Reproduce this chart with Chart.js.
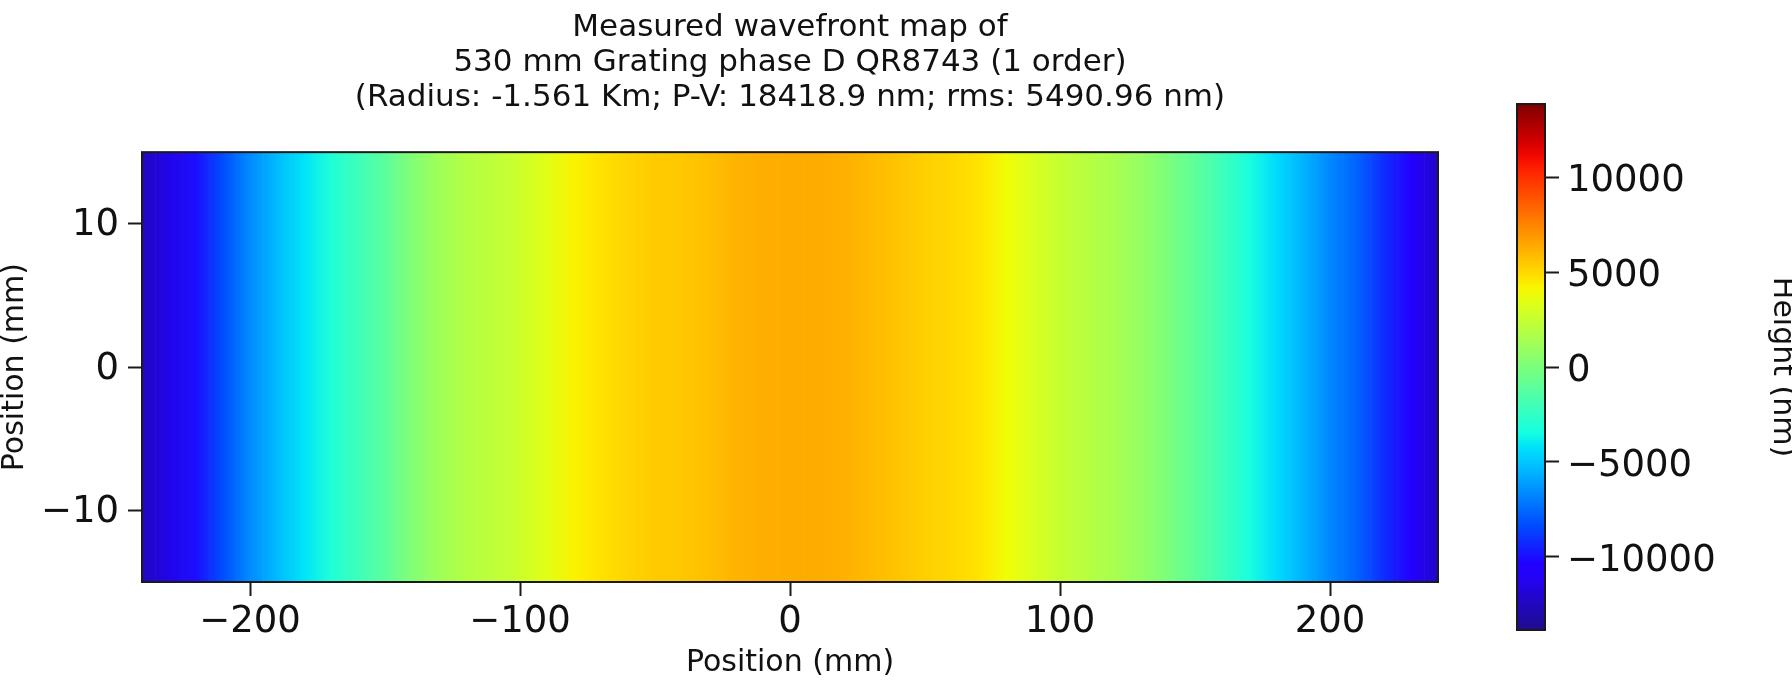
<!DOCTYPE html>
<html>
<head>
<meta charset="utf-8">
<script src="https://cdn.jsdelivr.net/npm/chart.js@4.4.1/dist/chart.umd.min.js"></script>
<style>
  html, body { margin: 0; padding: 0; background: #fff; overflow: hidden; }
  body { width: 1792px; height: 691px; position: relative; }
  #cajaMapa { position: absolute; left: 0; top: 0; width: 1580px; height: 691px; }
  #cajaBarra { position: absolute; left: 1440px; top: 0; width: 370px; height: 691px; }
</style>
</head>
<body>
<div id="cajaMapa"><canvas id="mapa"></canvas></div>
<div id="cajaBarra"><canvas id="barra"></canvas></div>
<script>
const titulo = [
    'Measured wavefront map of',
    '530 mm Grating phase D QR8743 (1 order)',
    '(Radius: -1.561 Km; P-V: 18418.9 nm; rms: 5490.96 nm)'
]
const posiciones = [-240, -230, -220, -210, -200, -190, -180, -170, -160, -150, -140, -130, -120, -110, -100,
    -90, -80, -70, -60, -50, -40, -30, -20, -10, 0, 10, 20, 30, 40, 50, 60, 70, 80, 90,
    100, 110, 120, 130, 140, 150, 160, 170, 180, 190, 200, 210, 220, 230, 240]
const alturas = [-12500, -11400, -10000, -8300, -6600, -5300, -4200, -3100, -2100, -1100, 200, 1200, 1850, 2250, 2700,
    3400, 4250, 4750, 5150, 5400, 5500, 5750, 6100, 6250, 6300, 6300, 6200, 5900, 5600, 5300, 5050, 4700, 3950, 3150,
    2500, 2000, 1500, 850, 0, -1000, -2100, -3300, -4400, -5500, -6700, -7700, -9200, -10700, -12200]
const rangoY = [-15, 15]
const rangoX = [-240, 240]
const ticksX = [-200, -100, 0, 100, 200]
const ticksY = [-10, 0, 10]
const rangoColor = [-13850, 13850]
const ticksColor = [-10000, -5000, 0, 5000, 10000]

Chart.defaults.font.family = 'DejaVu Sans'
Chart.defaults.color = '#111'

// mapa de color tipo jet
const canalesJet = {
    r: [[0, 0.12], [0.12, 0.14], [0.2, 0], [0.35, 0], [0.66, 1], [0.89, 1], [1, 0.5]],
    g: [[0, 0.05], [0.125, 0], [0.375, 1], [0.64, 1], [0.91, 0], [1, 0]],
    b: [[0, 0.55], [0.11, 1], [0.34, 1], [0.65, 0], [1, 0]]
}

const tramo = (puntos, t) => {
    for (let i = 1; i < puntos.length; i++) {
        if (t <= puntos[i][0]) {
            const [t0, v0] = puntos[i - 1]
            const [t1, v1] = puntos[i]
            return v0 + (v1 - v0) * (t - t0) / (t1 - t0)
        }
    }
    return puntos[puntos.length - 1][1]
}

const colorJet = (valor) => {
    const t = Math.min(1, Math.max(0, (valor - rangoColor[0]) / (rangoColor[1] - rangoColor[0])))
    const r = Math.round(255 * tramo(canalesJet.r, t))
    const g = Math.round(255 * tramo(canalesJet.g, t))
    const b = Math.round(255 * tramo(canalesJet.b, t))
    return `rgb(${r}, ${g}, ${b})`
}

const formatoTick = (v) => v < 0 ? '\u2212' + Math.abs(v) : String(v)

// degradado horizontal con una parada por cada columna medida
const degradadoMapa = (context) => {
    const chart = context.chart
    if (!chart.chartArea) return colorJet(0)
    const x = chart.scales.x
    const x0 = x.getPixelForValue(posiciones[0])
    const x1 = x.getPixelForValue(posiciones[posiciones.length - 1])
    const grad = chart.ctx.createLinearGradient(x0, 0, x1, 0)
    posiciones.forEach((p, i) => {
        grad.addColorStop((x.getPixelForValue(p) - x0) / (x1 - x0), colorJet(alturas[i]))
    })
    return grad
}

// degradado vertical de la barra de color
const degradadoBarra = (context) => {
    const chart = context.chart
    if (!chart.chartArea) return colorJet(0)
    const y = chart.scales.y
    const y0 = y.getPixelForValue(rangoColor[0])
    const y1 = y.getPixelForValue(rangoColor[1])
    const grad = chart.ctx.createLinearGradient(0, y0, 0, y1)
    for (let i = 0; i <= 40; i++) {
        const t = i / 40
        grad.addColorStop(t, colorJet(rangoColor[0] + t * (rangoColor[1] - rangoColor[0])))
    }
    return grad
}

// marco negro alrededor del area de dibujo
const marco = {
    id: 'marco',
    afterDatasetsDraw(chart) {
        const { ctx, chartArea: { left, top, right, bottom } } = chart
        ctx.save()
        ctx.strokeStyle = '#1a1a1a'
        ctx.lineWidth = 2
        ctx.strokeRect(left, top, right - left, bottom - top)
        ctx.restore()
    }
}

const gridTicks = {
    display: true,
    drawOnChartArea: false,
    drawTicks: true,
    tickLength: 14,
    tickWidth: 2,
    tickColor: '#1a1a1a',
    offset: false
}

new Chart(document.getElementById('mapa'), {
    type: 'bar',
    data: {
        datasets: [{
            data: posiciones.map(p => ({ x: p, y: rangoY })),
            backgroundColor: degradadoMapa,
            borderWidth: 0,
            barPercentage: 1,
            categoryPercentage: 1
        }]
    },
    options: {
        responsive: true,
        maintainAspectRatio: false,
        animation: false,
        layout: { padding: 0 },
        plugins: {
            legend: { display: false },
            tooltip: { enabled: false },
            title: {
                display: true,
                text: titulo,
                color: '#111',
                font: { size: 31, weight: 'normal', lineHeight: 1.12 },
                padding: { top: 11, bottom: 37 }
            }
        },
        scales: {
            x: {
                type: 'linear',
                offset: false,
                min: rangoX[0],
                max: rangoX[1],
                afterBuildTicks: s => { s.ticks = ticksX.map(v => ({ value: v })) },
                afterFit: s => { s.height = 109 },
                ticks: { font: { size: 37 }, padding: 4, maxRotation: 0, callback: formatoTick },
                grid: gridTicks,
                border: { display: false },
                title: {
                    display: true,
                    text: 'Position (mm)',
                    font: { size: 30, lineHeight: 1.2 },
                    padding: { top: 0, bottom: 10 }
                }
            },
            y: {
                min: rangoY[0],
                max: rangoY[1],
                afterBuildTicks: s => { s.ticks = ticksY.map(v => ({ value: v })) },
                afterFit: s => { s.width = 142 },
                ticks: { font: { size: 37 }, padding: 9, labelOffset: 2, callback: formatoTick },
                grid: gridTicks,
                border: { display: false },
                title: {
                    display: true,
                    text: 'Position (mm)',
                    font: { size: 30, lineHeight: 1 },
                    padding: { top: 0, bottom: 0 }
                }
            },
            // eje vacio a la derecha para dejar sitio a la barra de color
            derecha: {
                axis: 'y',
                position: 'right',
                display: true,
                min: rangoY[0],
                max: rangoY[1],
                afterFit: s => { s.width = 142 },
                ticks: { display: false },
                grid: { display: false },
                border: { display: false }
            }
        }
    },
    plugins: [marco]
})

new Chart(document.getElementById('barra'), {
    type: 'bar',
    data: {
        labels: ['Height'],
        datasets: [{
            data: [rangoColor],
            backgroundColor: degradadoBarra,
            borderWidth: 0,
            barPercentage: 1,
            categoryPercentage: 1
        }]
    },
    options: {
        responsive: true,
        maintainAspectRatio: false,
        animation: false,
        layout: { padding: { left: 77, right: 0, top: 104, bottom: 61 } },
        plugins: {
            legend: { display: false },
            tooltip: { enabled: false }
        },
        scales: {
            x: { display: false },
            y: {
                position: 'right',
                min: rangoColor[0],
                max: rangoColor[1],
                afterBuildTicks: s => { s.ticks = ticksColor.map(v => ({ value: v })) },
                afterFit: s => { s.width = 265 },
                ticks: { font: { size: 37 }, padding: 8, labelOffset: 4, callback: formatoTick },
                grid: gridTicks,
                border: { display: false },
                title: {
                    display: true,
                    text: 'Height (nm)',
                    font: { size: 30, lineHeight: 1 },
                    padding: { top: 13, bottom: 0 }
                }
            }
        }
    },
    plugins: [marco]
})
</script>
</body>
</html>
